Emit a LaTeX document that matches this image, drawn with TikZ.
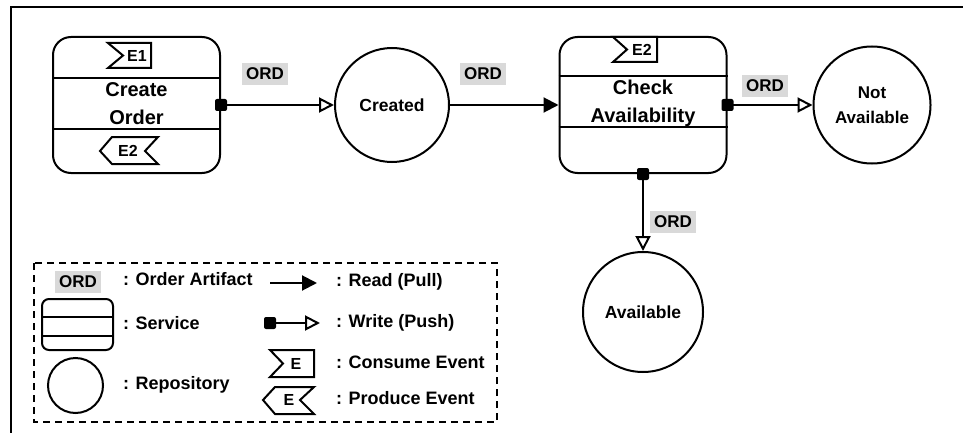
\documentclass[tikz,border=0pt]{standalone}
\usepackage{fontspec}
\setmainfont{Liberation Sans}
\usetikzlibrary{arrows.meta}
\definecolor{ordgray}{HTML}{D9D9D9}
\begin{document}
\begin{tikzpicture}[x=1pt,y=-1pt,line width=2pt,font=\bfseries,
  service/.style={draw,rounded corners=18pt,minimum width=167pt,minimum height=136pt,inner sep=0pt},
  svctext/.style={align=center,inner sep=0pt,font=\fontsize{20}{28}\selectfont\bfseries},
  repo/.style={draw,circle,inner sep=0pt,align=center},
  repotext/.style={font=\fontsize{17.5}{25}\selectfont\bfseries},
  port/.style={fill=black,rounded corners=2pt,minimum size=12pt,inner sep=0pt},
  ord/.style={fill=ordgray,minimum width=46pt,minimum height=22pt,inner sep=0pt,font=\fontsize{17}{20}\selectfont\bfseries},
  evtext/.style={inner sep=0pt,font=\fontsize{16}{18}\selectfont\bfseries},
  legtext/.style={anchor=west,inner sep=0pt,font=\fontsize{18}{20}\selectfont\bfseries},
  readarrow/.style={-{Triangle[length=15pt,width=15pt]}},
  writearrow/.style={-{Triangle[fill=white,length=15pt,width=15pt]}},
  evt/.style={draw,line width=2pt,line join=miter}
]
\useasboundingbox (0,0) rectangle (963,433);
% frame
\draw[line width=1.5pt] (11,433) -- (11,7) -- (963,7);

% services
\node[service] (co) at (136.5,105) {};
\draw (co.west |- 0,78) -- (co.east |- 0,78);
\draw (co.west |- 0,129) -- (co.east |- 0,129);
\node[svctext] (cot) at (136.5,103.5) {Create\\Order};

\node[service] (ca) at (643,105) {};
\draw (ca.west |- 0,76) -- (ca.east |- 0,76);
\draw (ca.west |- 0,127) -- (ca.east |- 0,127);
\node[svctext] (cat) at (643,103.5) {Check\\Availability};

% events
\draw[evt] (108,43) -- (151,43) -- (151,68) -- (108,68) -- (123,55.5) -- cycle;
\node[evtext] (e1) at (137,56) {E1};
\draw[evt] (100,151) -- (112,137) -- (158,137) -- (145,151) -- (158,164) -- (112,164) -- cycle;
\node[evtext] (e2p) at (128,151) {E2};
\draw[evt] (613,37) -- (657,37) -- (657,62) -- (613,62) -- (627,49.5) -- cycle;
\node[evtext] (e2c) at (642,50) {E2};

% repositories
\node[repo,minimum size=114pt,repotext] (created) at (392,105) {Created};
\node[repo,minimum size=117pt,font=\fontsize{17}{25}\selectfont\bfseries] (notav) at (872,105) {Not\\Available};
\node[repo,minimum size=120pt,repotext] (avail) at (643,312) {Available};

% ports
\node[port] (p1) at (co.east) {};
\node[port] (p2) at (ca.east) {};
\node[port] (p3) at (ca.south) {};

% connectors
\draw[writearrow] (p1.center) -- (created);
\draw[readarrow] (created) -- (ca.west);
\draw[writearrow] (p2.center) -- (notav);
\draw[writearrow] (p3.center) -- (avail);

% ORD labels
\node[ord] (o1) at (265,74) {ORD};
\node[ord] (o2) at (483,74) {ORD};
\node[ord] (o3) at (765,86) {ORD};
\node[ord] (o4) at (673,222) {ORD};

% legend
\draw[dash pattern=on 7pt off 5pt] (34,263) rectangle (497,422);
\node[ord] (lo) at (78,282) {ORD};
\node[legtext] (lt1) at (122,279) {: Order Artifact};
\draw[rounded corners=7pt] (42,299) rectangle (113,350);
\draw (42,317) -- (113,317);
\draw (42,336) -- (113,336);
\node[legtext] (lt2) at (122,323) {: Service};
\node[draw,circle,minimum size=55pt,inner sep=0pt] (lrep) at (75.5,385.5) {};
\node[legtext] (lt3) at (122,385) {: Repository};

\coordinate (r1) at (270,283);
\coordinate (r2) at (317,283);
\draw[readarrow] (r1) -- (r2);
\node[legtext] (lt4) at (335,282) {: Read (Pull)};
\node[port] (lw) at (270,323) {};
\coordinate (w2) at (320,323);
\draw[writearrow] (lw.center) -- (w2);
\node[legtext] (lt5) at (335,323) {: Write (Push)};
\draw[evt] (270,350) -- (314,350) -- (314,377) -- (270,377) -- (283,363.5) -- cycle;
\node[evtext] (le1) at (296,364) {E};
\node[legtext] (lt6) at (335,362) {: Consume Event};
\draw[evt] (263,400) -- (275,387) -- (314,387) -- (300,400) -- (314,414) -- (275,414) -- cycle;
\node[evtext] (le2) at (289,400) {E};
\node[legtext] (lt7) at (335,398) {: Produce Event};
\end{tikzpicture}
\end{document}
